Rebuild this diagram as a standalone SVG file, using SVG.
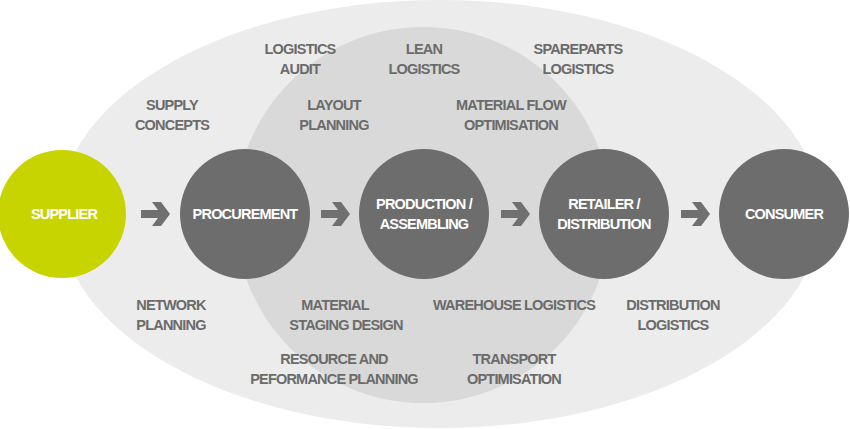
<svg xmlns="http://www.w3.org/2000/svg" width="850" height="429" viewBox="0 0 850 429">
<style>
text{font-family:"Liberation Sans",Arial,sans-serif;font-weight:bold;font-size:14.5px;text-anchor:middle;letter-spacing:-0.8px}
.l{fill:#6b6b6b}
.w{fill:#fff}
.n{fill:#6d6d6d}
.a{fill:#707070}
</style>
<defs><path id="arr" d="M0,-4 H17 L11,-12 H20 L29,0 L20,12 H11 L17,4 H0 Z"/></defs>
<rect width="850" height="429" fill="#fff"/>
<g id="bg">
<ellipse cx="440" cy="214" rx="381" ry="214" fill="#ececec"/>
<circle cx="423" cy="215" r="188" fill="#d9d9d9"/>
</g>
<g id="connectors" class="a">
<use href="#arr" x="141" y="214"/>
<use href="#arr" x="321" y="214"/>
<use href="#arr" x="501" y="214"/>
<use href="#arr" x="681" y="214"/>
</g>
<g id="supplier"><circle cx="62" cy="214" r="64" fill="#c8d400"/><text class="w" x="64" y="219">SUPPLIER</text></g>
<g id="procurement"><circle class="n" cx="245" cy="214" r="65"/><text class="w" x="245" y="219">PROCUREMENT</text></g>
<g id="production"><circle class="n" cx="424" cy="214" r="65"/><text class="w" x="424" y="209">PRODUCTION /</text><text class="w" x="424" y="229">ASSEMBLING</text></g>
<g id="retailer"><circle class="n" cx="604" cy="214" r="65"/><text class="w" x="604" y="209">RETAILER /</text><text class="w" x="604" y="229">DISTRIBUTION</text></g>
<g id="consumer"><circle class="n" cx="784" cy="214" r="65"/><text class="w" x="784" y="219">CONSUMER</text></g>
<g id="labels" class="l">
<text x="300" y="54">LOGISTICS</text><text x="300" y="74">AUDIT</text>
<text x="424" y="54">LEAN</text><text x="424" y="74">LOGISTICS</text>
<text x="578" y="54">SPAREPARTS</text><text x="578" y="74">LOGISTICS</text>
<text x="172" y="110">SUPPLY</text><text x="172" y="130">CONCEPTS</text>
<text x="334" y="110">LAYOUT</text><text x="334" y="130">PLANNING</text>
<text x="511" y="110">MATERIAL FLOW</text><text x="511" y="130">OPTIMISATION</text>
<text x="171" y="310">NETWORK</text><text x="171" y="330">PLANNING</text>
<text x="335" y="310">MATERIAL</text><text x="346" y="330">STAGING DESIGN</text>
<text x="514" y="310">WAREHOUSE LOGISTICS</text>
<text x="673" y="310">DISTRIBUTION</text><text x="673" y="330">LOGISTICS</text>
<text x="334" y="364">RESOURCE AND</text><text x="334" y="384">PEFORMANCE PLANNING</text>
<text x="514" y="364">TRANSPORT</text><text x="514" y="384">OPTIMISATION</text>
</g>
</svg>
